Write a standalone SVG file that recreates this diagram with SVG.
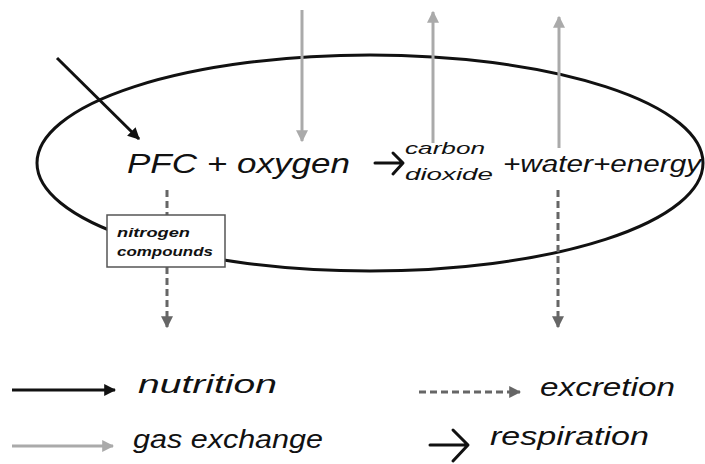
<svg xmlns="http://www.w3.org/2000/svg" width="705" height="464" viewBox="0 0 705 464">
<style>
.t{font-family:"Liberation Sans","DejaVu Sans",sans-serif;font-style:italic;fill:#111}
.nut{stroke:#111;stroke-width:3;fill:none}
.gas{stroke:#aaa;stroke-width:3;fill:none}
.exc{stroke:#666;stroke-width:3;fill:none;stroke-dasharray:7,4}
.resp{stroke:#111;stroke-width:3;fill:none;stroke-linecap:round;stroke-linejoin:round}
</style>
<defs>
<marker id="mNut" viewBox="0 0 10 10" refX="9" refY="5" markerWidth="4" markerHeight="4" orient="auto" markerUnits="strokeWidth"><path d="M0,0L10,5L0,10z" fill="#111"/></marker>
<marker id="mGas" viewBox="0 0 10 10" refX="9" refY="5" markerWidth="4" markerHeight="4" orient="auto" markerUnits="strokeWidth"><path d="M0,0L10,5L0,10z" fill="#aaa"/></marker>
<marker id="mExc" viewBox="0 0 10 10" refX="9" refY="5" markerWidth="4" markerHeight="4" orient="auto" markerUnits="strokeWidth"><path d="M0,0L10,5L0,10z" fill="#666"/></marker>
</defs>
<g id="cell">
<ellipse cx="370" cy="163" rx="333" ry="108" fill="none" stroke="#111" stroke-width="3"/>
</g>
<g id="connectors">
<line class="nut" x1="57" y1="58" x2="139" y2="139" marker-end="url(#mNut)"/>
<line class="gas" x1="302" y1="10" x2="302" y2="141" marker-end="url(#mGas)"/>
<line class="gas" x1="433" y1="143" x2="433" y2="12" marker-end="url(#mGas)"/>
<line class="gas" x1="559" y1="148" x2="559" y2="17" marker-end="url(#mGas)"/>
<line class="exc" x1="167" y1="190" x2="167" y2="327" marker-end="url(#mExc)"/>
<line class="exc" x1="558" y1="190" x2="558" y2="327" marker-end="url(#mExc)"/>
<path class="resp" d="M375,163H402M393,153L403,163L393,174"/>
</g>
<g id="equation">
<text class="t" x="127" y="173" font-size="28" textLength="223" lengthAdjust="spacingAndGlyphs">PFC + oxygen</text>
<text class="t" x="405" y="154" font-size="17" textLength="80" lengthAdjust="spacingAndGlyphs">carbon</text>
<text class="t" x="405" y="180" font-size="17" textLength="88" lengthAdjust="spacingAndGlyphs">dioxide</text>
<text class="t" x="503" y="172" font-size="23" textLength="198" lengthAdjust="spacingAndGlyphs">+water+energy</text>
</g>
<g id="nitrogen">
<rect x="107" y="215" width="118" height="52" fill="#fff" stroke="#555" stroke-width="1.5"/>
<text class="t" x="117" y="237" font-size="13" font-weight="bold" textLength="73" lengthAdjust="spacingAndGlyphs">nitrogen</text>
<text class="t" x="117" y="256" font-size="13" font-weight="bold" textLength="96" lengthAdjust="spacingAndGlyphs">compounds</text>
</g>
<g id="legend">
<line class="nut" x1="12" y1="390" x2="115" y2="390" marker-end="url(#mNut)"/>
<text class="t" x="138" y="393" font-size="25" textLength="139" lengthAdjust="spacingAndGlyphs">nutrition</text>
<line class="exc" x1="419" y1="392" x2="520" y2="392" marker-end="url(#mExc)"/>
<text class="t" x="540" y="396" font-size="25" textLength="135" lengthAdjust="spacingAndGlyphs">excretion</text>
<line class="gas" x1="12" y1="446" x2="113" y2="446" marker-end="url(#mGas)"/>
<text class="t" x="133" y="448" font-size="25" textLength="190" lengthAdjust="spacingAndGlyphs">gas exchange</text>
<path class="resp" d="M430,445H467M453,430L468,445L453,461" stroke-width="4"/>
<text class="t" x="490" y="445" font-size="25" textLength="159" lengthAdjust="spacingAndGlyphs">respiration</text>
</g>
</svg>
